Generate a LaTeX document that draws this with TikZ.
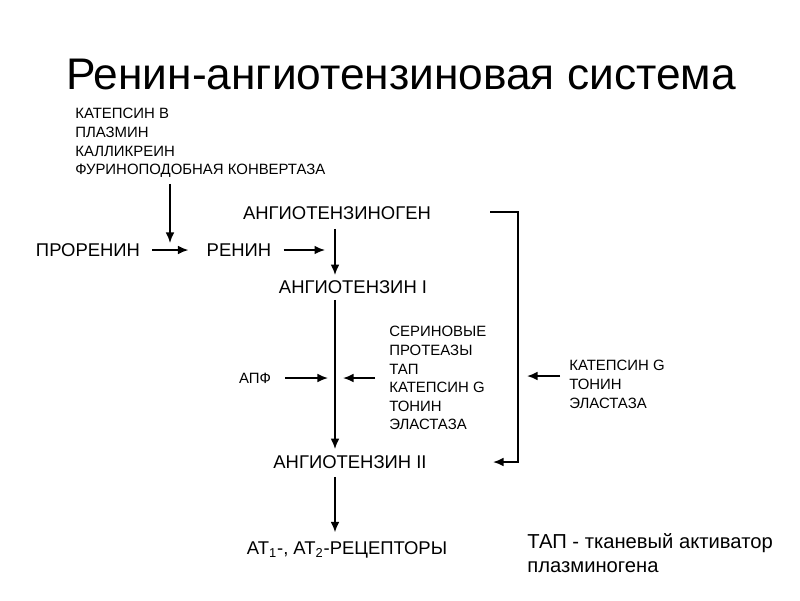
\documentclass[tikz,border=0pt]{standalone}
\usepackage{fontspec}
\setmainfont{Liberation Sans}
\usetikzlibrary{arrows.meta}
\tikzset{lbl/.style={font=\fontsize{10.5}{12}\selectfont,inner sep=0pt},
	enz/.style={font=\fontsize{8.5}{10.6}\selectfont,inner sep=0pt,align=left,anchor=north west},
	arr/.style={-{Latex[length=6pt,width=5pt]},line width=1pt}}

\begin{document}
\begin{tikzpicture}[x=0.02cm,y=-0.02cm]
			\useasboundingbox (0,0) rectangle (800,600);
			\node[font=\fontsize{25.2}{29}\selectfont] (title) at (401,74) {Ренин-ангиотензиновая система};

			\node[enz] (cat) at (75,108) {КАТЕПСИН В\\ПЛАЗМИН\\КАЛЛИКРЕИН\\ФУРИНОПОДОБНАЯ КОНВЕРТАЗА};
			\node[lbl] (pro) at (88,250) {ПРОРЕНИН};
			\node[lbl] (ren) at (239,250) {РЕНИН};
			\node[lbl] (agen) at (337,213) {АНГИОТЕНЗИНОГЕН};
			\node[lbl] (at1) at (353,287) {АНГИОТЕНЗИН I};
			\node[enz,anchor=center] (apf) at (255,378) {АПФ};
			\node[enz] (ser) at (389,326) {СЕРИНОВЫЕ\\ПРОТЕАЗЫ\\ТАП\\КАТЕПСИН G\\ТОНИН\\ЭЛАСТАЗА};
			\node[enz] (ctg) at (569,360) {КАТЕПСИН G\\ТОНИН\\ЭЛАСТАЗА};
			\node[lbl] (at2) at (350,462) {АНГИОТЕНЗИН II};
			\node[lbl] (rec) at (347,550) {АТ\textsubscript{1}-, АТ\textsubscript{2}-РЕЦЕПТОРЫ};
			\node[font=\fontsize{11.5}{14}\selectfont,inner sep=0pt,align=left,anchor=north west] (note) at (527,533) {ТАП - тканевый активатор\\плазминогена};

			% free ends of the connectors
			\coordinate (ax) at (335,0);
			\coordinate (hit) at (170,243);
			\coordinate (brt) at (518,212);
			\coordinate (brb) at (518,462);
			\coordinate (ctgin) at (560,376);

			\draw[arr] (cat.south -| hit) ++(0,6) -- (hit);
			\draw[arr,shorten <=12pt*0.567,shorten >=18pt*0.567] (pro.east) -- (ren.west);
			\draw[arr,shorten <=12pt*0.567] (ren.east) -- ([xshift=-10pt*0.567]ren.east -| ax);
			\draw[arr] ([yshift=-9pt*0.567]agen.south -| ax) -- ([yshift=5pt*0.567]at1.north -| ax);
			\draw[arr] ([yshift=-6pt*0.567]at1.south -| ax) -- ([yshift=6pt*0.567]at2.north -| ax);
			\draw[arr] ([yshift=-8pt*0.567]at2.south -| ax) -- ([yshift=9pt*0.567]rec.north -| ax);
			\draw[arr,shorten <=14pt*0.567,shorten >=7pt*0.567] (apf.east) -- (apf -| ax);
			\draw[arr,shorten <=14pt*0.567,shorten >=8pt*0.567] (ser.west |- apf) -- (apf -| ax);
			\draw[arr] ([xshift=-28pt*0.567]brt) -- (brt) -- (brb) -- ++(-25,0);
			\draw[arr] (ctgin) -- ++(-33,0);
		\end{tikzpicture}
\end{document}
